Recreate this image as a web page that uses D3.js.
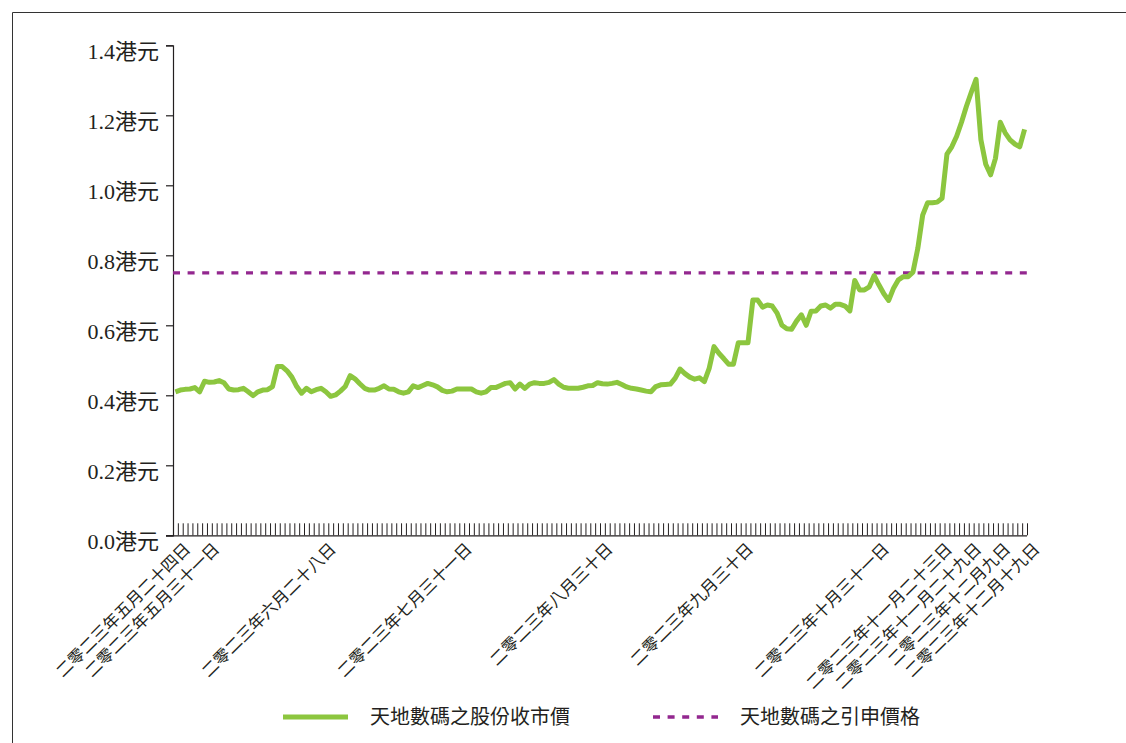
<!DOCTYPE html>
<html>
<head>
<meta charset="utf-8">
<script src="https://cdn.jsdelivr.net/npm/d3@7"></script>
<style>
  html, body { margin: 0; padding: 0; background: #fff; }
  svg { display: block; }
  text { font-family: "Liberation Serif", "Noto Sans CJK TC", serif; fill: #231f20; }
</style>
</head>
<body>
<svg id="chart" width="1126" height="743"></svg>
<script>
// ---- data ----
const prices = [
  0.410, 0.415, 0.417, 0.418, 0.422, 0.410, 0.440, 0.437, 0.438, 0.442,
  0.436, 0.418, 0.415, 0.416, 0.420, 0.410, 0.399, 0.410, 0.415, 0.416,
  0.425, 0.482, 0.482, 0.470, 0.452, 0.425, 0.406, 0.420, 0.410, 0.416,
  0.420, 0.410, 0.397, 0.401, 0.412, 0.425, 0.456, 0.447, 0.433, 0.420,
  0.415, 0.415, 0.420, 0.427, 0.418, 0.417, 0.410, 0.406, 0.410, 0.427,
  0.422, 0.428, 0.434, 0.430, 0.424, 0.414, 0.410, 0.412, 0.418, 0.418,
  0.418, 0.418, 0.410, 0.406, 0.410, 0.422, 0.422, 0.428, 0.434, 0.436,
  0.418, 0.432, 0.420, 0.432, 0.436, 0.434, 0.434, 0.437, 0.445, 0.432,
  0.423, 0.420, 0.420, 0.420, 0.423, 0.427, 0.428, 0.436, 0.433, 0.432,
  0.434, 0.437, 0.431, 0.424, 0.420, 0.418, 0.415, 0.412, 0.410, 0.425,
  0.430, 0.431, 0.432, 0.449, 0.475, 0.462, 0.452, 0.446, 0.450, 0.439,
  0.477, 0.539, 0.520, 0.505, 0.489, 0.489, 0.550, 0.550, 0.550, 0.672,
  0.672, 0.652, 0.658, 0.655, 0.635, 0.600, 0.590, 0.589, 0.612, 0.630,
  0.600, 0.640, 0.641, 0.655, 0.658, 0.649, 0.660, 0.660, 0.655, 0.641,
  0.728, 0.701, 0.701, 0.710, 0.742, 0.715, 0.690, 0.671, 0.706, 0.730,
  0.739, 0.739, 0.752, 0.820, 0.915, 0.950, 0.950, 0.952, 0.963, 1.089,
  1.110, 1.140, 1.180, 1.225, 1.265, 1.303, 1.130, 1.060, 1.030, 1.077,
  1.180, 1.150, 1.130, 1.118, 1.110, 1.160
];
const subscriptionPrice = 0.75;
const labelIndex = [0, 6, 30, 58, 87, 116, 144, 157, 163, 169, 175];
const labelText = [
  "二零二三年五月二十四日", "二零二三年五月三十一日", "二零二三年六月二十八日",
  "二零二三年七月三十一日", "二零二三年八月三十日", "二零二三年九月三十日",
  "二零二三年十月三十一日", "二零二三年十一月二十三日", "二零二三年十一月二十九日",
  "二零二三年十二月九日", "二零二三年十二月十九日"
];
const yTicks = [0, 0.2, 0.4, 0.6, 0.8, 1.0, 1.2, 1.4];
const legendNames = ["天地數碼之股份收市價", "天地數碼之引申價格"];

(function () {
  // ---- layout ----
  const GREEN = "#8cc63f", PURPLE = "#93278f", INK = "#231f20";
  const plotLeft = 173, plotRight = 1027, plotTop = 45.3, plotBottom = 535.3;
  const N = prices.length;
  const svg = d3.select("#chart");

  // frame
  svg.append("path")
    .attr("d", "M12.5,760 L12.5,12.5 L1140,12.5")
    .attr("fill", "none").attr("stroke", "#333").attr("stroke-width", 1);

  const x = d3.scaleLinear().domain([0, N]).range([plotLeft, plotRight]);
  const y = d3.scaleLinear().domain([0, 1.4]).range([plotBottom, plotTop]);

  // y axis
  const yAxis = svg.append("g")
    .attr("transform", `translate(${plotLeft},0)`)
    .call(d3.axisLeft(y).tickValues(yTicks).tickSize(7).tickPadding(7)
          .tickFormat(d => d.toFixed(1) + "港元"));
  yAxis.selectAll("path, line").attr("stroke", INK).attr("stroke-width", 1.2);
  yAxis.selectAll("text").attr("font-size", 22).attr("dy", "0.6em")
    .style("font-family", '"Liberation Serif", "Noto Sans CJK TC", serif').attr("fill", INK);

  // x axis (category boundary ticks, pointing up)
  const xAxis = svg.append("g")
    .attr("transform", `translate(0,${plotBottom})`)
    .call(d3.axisBottom(x).tickValues(d3.range(0, N + 1)).tickSizeInner(-12).tickSizeOuter(0).tickFormat(""));
  xAxis.select("path.domain").attr("d", `M${plotLeft - 7},0.5H${plotRight}`).attr("stroke", INK).attr("stroke-width", 1.2);
  xAxis.selectAll("line").attr("stroke", INK).attr("stroke-width", 1);

  // x labels
  svg.append("g").selectAll("text")
    .data(labelIndex)
    .join("text")
    .attr("transform", i => `translate(${x(i + 0.5) + 16},550) rotate(-45)`)
    .attr("text-anchor", "end")
    .attr("font-size", 16.5)
    .text((d, k) => labelText[k]);

  // subscription price dashed line
  svg.append("line")
    .attr("x1", plotLeft).attr("x2", plotRight)
    .attr("y1", y(subscriptionPrice)).attr("y2", y(subscriptionPrice))
    .attr("stroke", PURPLE).attr("stroke-width", 3.3)
    .attr("stroke-dasharray", "7,7.6");

  // price line
  const line = d3.line().x((d, i) => x(i + 0.5)).y(d => y(d));
  svg.append("path")
    .datum(prices)
    .attr("d", line)
    .attr("fill", "none")
    .attr("stroke", GREEN)
    .attr("stroke-width", 5)
    .attr("stroke-linejoin", "round");

  // legend
  const lg = svg.append("g");
  lg.append("line").attr("x1", 283).attr("x2", 348).attr("y1", 717).attr("y2", 717)
    .attr("stroke", GREEN).attr("stroke-width", 5);
  lg.append("text").attr("x", 370).attr("y", 717).attr("dy", "0.35em")
    .attr("font-size", 20).text(legendNames[0]);
  lg.append("line").attr("x1", 653).attr("x2", 718).attr("y1", 717).attr("y2", 717)
    .attr("stroke", PURPLE).attr("stroke-width", 3.3).attr("stroke-dasharray", "7,7.6");
  lg.append("text").attr("x", 740).attr("y", 717).attr("dy", "0.35em")
    .attr("font-size", 20).text(legendNames[1]);
})();
</script>
</body>
</html>
